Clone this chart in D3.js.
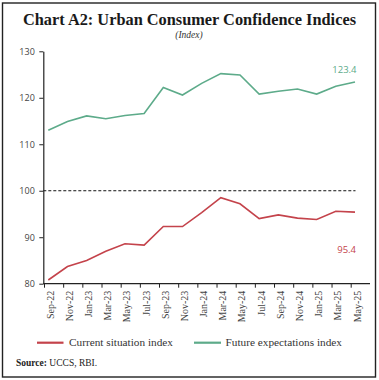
<!DOCTYPE html>
<html><head><meta charset="utf-8">
<script src="https://cdn.jsdelivr.net/npm/d3@7/dist/d3.min.js"></script>
<style>body{margin:0;background:#fff}svg{display:block}</style>
</head><body>
<script>
const categories = ["Sep-22","Nov-22","Jan-23","Mar-23","May-23","Jul-23","Sep-23","Nov-23","Jan-24","Mar-24","May-24","Jul-24","Sep-24","Nov-24","Jan-25","Mar-25","May-25"];
const currentSituation = [80.8,83.7,85.0,87.0,88.6,88.3,92.3,92.3,95.3,98.5,97.2,94.0,94.8,94.1,93.8,95.6,95.4];
const futureExpectations = [113.0,114.9,116.1,115.5,116.2,116.6,122.2,120.6,123.1,125.2,124.9,120.8,121.4,121.9,120.8,122.5,123.4];
const yTicks = [80,90,100,110,120,130];
const seriesNames = ["Current situation index","Future expectations index"];
const colors = ["#c4434b","#5dab8a"];

const W=379,H=380;
const svg=d3.select("body").append("svg").attr("width",W).attr("height",H);
svg.append("rect").attr("x",2.5).attr("y",3).attr("width",373).attr("height",374)
  .attr("fill","none").attr("stroke","#222").attr("stroke-width",1.4);

svg.append("text").attr("x",189.5).attr("y",25).attr("text-anchor","middle")
  .attr("font-family","Liberation Serif, serif").attr("font-weight","bold").attr("font-size",17)
  .attr("fill","#1a1a1a").attr("textLength",333).attr("lengthAdjust","spacingAndGlyphs")
  .text("Chart A2: Urban Consumer Confidence Indices");
svg.append("text").attr("x",189).attr("y",38).attr("text-anchor","middle")
  .attr("font-family","Liberation Serif, serif").attr("font-style","italic").attr("font-size",9.5)
  .attr("fill","#333").text("(Index)");

const x=d3.scalePoint().domain(categories).range([48.3,355]);
const y=d3.scaleLinear().domain([80,130]).range([283.7,51.3]);

// reference line at 100
svg.append("line").attr("x1",43.3).attr("x2",355.5).attr("y1",y(100)).attr("y2",y(100))
  .attr("stroke","#111").attr("stroke-width",1).attr("stroke-dasharray","3,2");

const yAxis=svg.append("g").attr("transform","translate(43.3,0)")
  .call(d3.axisLeft(y).tickValues(yTicks).tickSize(4).tickSizeOuter(0));
yAxis.select(".domain").attr("stroke","#222").attr("stroke-width",1.2);
yAxis.selectAll(".tick line").attr("stroke","#222");
yAxis.selectAll(".tick text").attr("font-family","Open Sans, sans-serif").attr("font-size",9)
  .attr("fill","#444").attr("x",-8.5);

const xAxis=svg.append("g").attr("transform","translate(0,283.7)")
  .call(d3.axisBottom(x).tickSize(4).tickSizeOuter(0));
xAxis.select(".domain").attr("d","M43.3,0H370").attr("stroke","#222").attr("stroke-width",1.2);
xAxis.selectAll(".tick line").attr("stroke","#222").attr("transform","translate(-4.3,0)");
xAxis.selectAll(".tick text").attr("font-family","Liberation Serif, serif").attr("font-size",10)
  .attr("fill","#444").attr("transform","rotate(-90)").attr("text-anchor","end")
  .attr("x",-7).attr("y",0).attr("dy","0.35em").attr("dx",0);
// shift labels slightly right
xAxis.selectAll(".tick text").attr("y",1.5);

const line=d3.line().x((d,i)=>x(categories[i])).y(d=>y(d));
[currentSituation,futureExpectations].forEach((s,k)=>{
  svg.append("path").datum(s).attr("d",line).attr("fill","none")
    .attr("stroke",colors[k]).attr("stroke-width",1.6);
});

svg.append("text").attr("x",356.5).attr("y",72.5).attr("text-anchor","end")
  .attr("font-family","Open Sans, sans-serif").attr("font-size",9.5).attr("fill",colors[1])
  .text(futureExpectations[futureExpectations.length-1].toFixed(1));
svg.append("text").attr("x",356).attr("y",253).attr("text-anchor","end")
  .attr("font-family","Open Sans, sans-serif").attr("font-size",9.5).attr("fill",colors[0])
  .text(currentSituation[currentSituation.length-1].toFixed(1));

// legend
const leg=[{x1:37,x2:63.5,tx:69,tw:104},{x1:194,x2:221,tx:225.5,tw:116.5}];
leg.forEach((l,k)=>{
  svg.append("line").attr("x1",l.x1).attr("x2",l.x2).attr("y1",342.7).attr("y2",342.7)
    .attr("stroke",colors[k]).attr("stroke-width",2.2);
  svg.append("text").attr("x",l.tx).attr("y",346).attr("font-family","Liberation Serif, serif")
    .attr("font-size",10.5).attr("fill","#333").attr("textLength",l.tw).attr("lengthAdjust","spacingAndGlyphs")
    .text(seriesNames[k]);
});

const src=svg.append("text").attr("x",16).attr("y",366).attr("font-family","Liberation Serif, serif")
  .attr("font-size",9.5).attr("fill","#222");
src.append("tspan").attr("font-weight","bold").text("Source:");
src.append("tspan").text(" UCCS, RBI.");
</script>
</body></html>
